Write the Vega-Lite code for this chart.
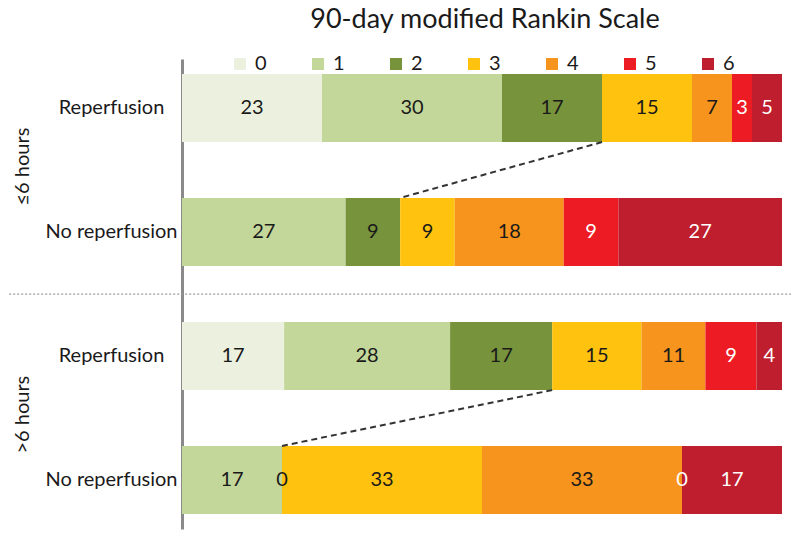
{
  "$schema": "https://vega.github.io/schema/vega-lite/v6.json",
  "autosize": {"type": "none"},
  "width": 600,
  "height": 470,
  "padding": {"left": 182, "top": 59, "right": 18, "bottom": 6},
  "background": "white",
  "config": {"view": {"stroke": null}, "font": "Lato"},
  "title": {"text": "90-day modified Rankin Scale", "fontSize": 27, "fontWeight": "normal", "font": "Lato", "color": "#1a1a1a", "anchor": "middle", "offset": 20, "dx": 3},
  "datasets": {
    "bars": [
      {"row": "≤6 hours|Reperfusion", "mrs": 0, "pct": 23.333},
      {"row": "≤6 hours|Reperfusion", "mrs": 1, "pct": 30.0},
      {"row": "≤6 hours|Reperfusion", "mrs": 2, "pct": 16.667},
      {"row": "≤6 hours|Reperfusion", "mrs": 3, "pct": 15.0},
      {"row": "≤6 hours|Reperfusion", "mrs": 4, "pct": 6.667},
      {"row": "≤6 hours|Reperfusion", "mrs": 5, "pct": 3.333},
      {"row": "≤6 hours|Reperfusion", "mrs": 6, "pct": 5.0},
      {"row": "≤6 hours|No reperfusion", "mrs": 1, "pct": 27.273},
      {"row": "≤6 hours|No reperfusion", "mrs": 2, "pct": 9.091},
      {"row": "≤6 hours|No reperfusion", "mrs": 3, "pct": 9.091},
      {"row": "≤6 hours|No reperfusion", "mrs": 4, "pct": 18.182},
      {"row": "≤6 hours|No reperfusion", "mrs": 5, "pct": 9.091},
      {"row": "≤6 hours|No reperfusion", "mrs": 6, "pct": 27.273},
      {"row": ">6 hours|Reperfusion", "mrs": 0, "pct": 17.021},
      {"row": ">6 hours|Reperfusion", "mrs": 1, "pct": 27.660},
      {"row": ">6 hours|Reperfusion", "mrs": 2, "pct": 17.021},
      {"row": ">6 hours|Reperfusion", "mrs": 3, "pct": 14.894},
      {"row": ">6 hours|Reperfusion", "mrs": 4, "pct": 10.638},
      {"row": ">6 hours|Reperfusion", "mrs": 5, "pct": 8.511},
      {"row": ">6 hours|Reperfusion", "mrs": 6, "pct": 4.255},
      {"row": ">6 hours|No reperfusion", "mrs": 1, "pct": 16.667},
      {"row": ">6 hours|No reperfusion", "mrs": 2, "pct": 0},
      {"row": ">6 hours|No reperfusion", "mrs": 3, "pct": 33.333},
      {"row": ">6 hours|No reperfusion", "mrs": 4, "pct": 33.333},
      {"row": ">6 hours|No reperfusion", "mrs": 5, "pct": 0},
      {"row": ">6 hours|No reperfusion", "mrs": 6, "pct": 16.667}
    ],
    "links": [
      {"from": "≤6 hours|Reperfusion", "to": "≤6 hours|No reperfusion", "a": 70.0, "b": 36.364},
      {"from": ">6 hours|Reperfusion", "to": ">6 hours|No reperfusion", "a": 61.702, "b": 16.667}
    ],
    "groups": [
      {"group": "≤6 hours", "row": "≤6 hours|Reperfusion"},
      {"group": ">6 hours", "row": ">6 hours|Reperfusion"}
    ],
    "separator": [
      {"row": "≤6 hours|No reperfusion"}
    ]
  },
  "layer": [
    {
      "data": {"name": "bars"},
      "mark": {"type": "bar"},
      "encoding": {
        "y": {"field": "row", "type": "nominal", "title": null,
          "scale": {"domain": ["≤6 hours|Reperfusion", "≤6 hours|No reperfusion", ">6 hours|Reperfusion", ">6 hours|No reperfusion"], "paddingInner": 0.45, "paddingOuter": 0.12},
          "axis": {"labelExpr": "split(datum.label, '|')[1]", "domain": true, "domainColor": "#8a8a8a", "domainWidth": 3, "ticks": false, "grid": false, "labelFontSize": 20, "labelColor": "#1a1a1a", "labelPadding": 71, "labelAlign": "center", "labelFont": "Lato", "labelLimit": 200, "title": null}},
        "x": {"field": "pct", "type": "quantitative", "stack": "zero", "axis": null, "scale": {"domain": [0, 100], "nice": false, "zero": true}},
        "color": {"field": "mrs", "type": "nominal",
          "scale": {"domain": [0, 1, 2, 3, 4, 5, 6], "range": ["#ebf1de", "#c4d79b", "#77933c", "#ffc20e", "#f7941d", "#ed1c24", "#be1e2d"]},
          "legend": {"title": null, "orient": "none", "legendX": 48, "legendY": -5, "direction": "horizontal", "columns": 7, "gridAlign": "all", "symbolType": "square", "symbolSize": 144, "symbolStrokeWidth": 0, "symbolOpacity": 1, "labelFontSize": 20, "labelFont": "Lato", "labelColor": "#1a1a1a", "labelOffset": 5, "columnPadding": 41}},
        "order": {"field": "mrs", "type": "quantitative"}
      }
    },
    {
      "data": {"name": "bars"},
      "mark": {"type": "text", "fontSize": 20, "font": "Lato", "align": "center", "baseline": "middle"},
      "encoding": {
        "y": {"field": "row", "type": "nominal", "title": null},
        "x": {"field": "pct", "type": "quantitative", "stack": "zero", "bandPosition": 0.5},
        "detail": {"field": "mrs", "type": "nominal"},
        "order": {"field": "mrs", "type": "quantitative"},
        "text": {"field": "pct", "type": "quantitative", "format": ".0f"},
        "color": {"condition": {"test": "datum.mrs >= 5", "value": "#ffffff"}, "value": "#1a1a1a"}
      }
    },
    {
      "data": {"name": "links"},
      "mark": {"type": "rule", "strokeDash": [6, 4], "strokeWidth": 2, "color": "#333333"},
      "encoding": {
        "y": {"field": "from", "type": "nominal", "bandPosition": 1, "title": null},
        "y2": {"field": "to", "bandPosition": 0},
        "x": {"field": "a", "type": "quantitative"},
        "x2": {"field": "b"}
      }
    },
    {
      "data": {"name": "separator"},
      "mark": {"type": "rule", "strokeDash": [2, 2], "strokeWidth": 1.2, "color": "#9a9a9a"},
      "encoding": {
        "y": {"field": "row", "type": "nominal", "bandPosition": 1.41, "title": null},
        "x": {"datum": -28.8},
        "x2": {"datum": 101.5}
      }
    },
    {
      "data": {"name": "groups"},
      "mark": {"type": "text", "angle": 270, "fontSize": 20, "font": "Lato", "color": "#1a1a1a", "align": "center", "baseline": "middle"},
      "encoding": {
        "y": {"field": "row", "type": "nominal", "bandPosition": 1.36, "title": null},
        "x": {"datum": -26.5},
        "text": {"field": "group", "type": "nominal"}
      }
    }
  ]
}
